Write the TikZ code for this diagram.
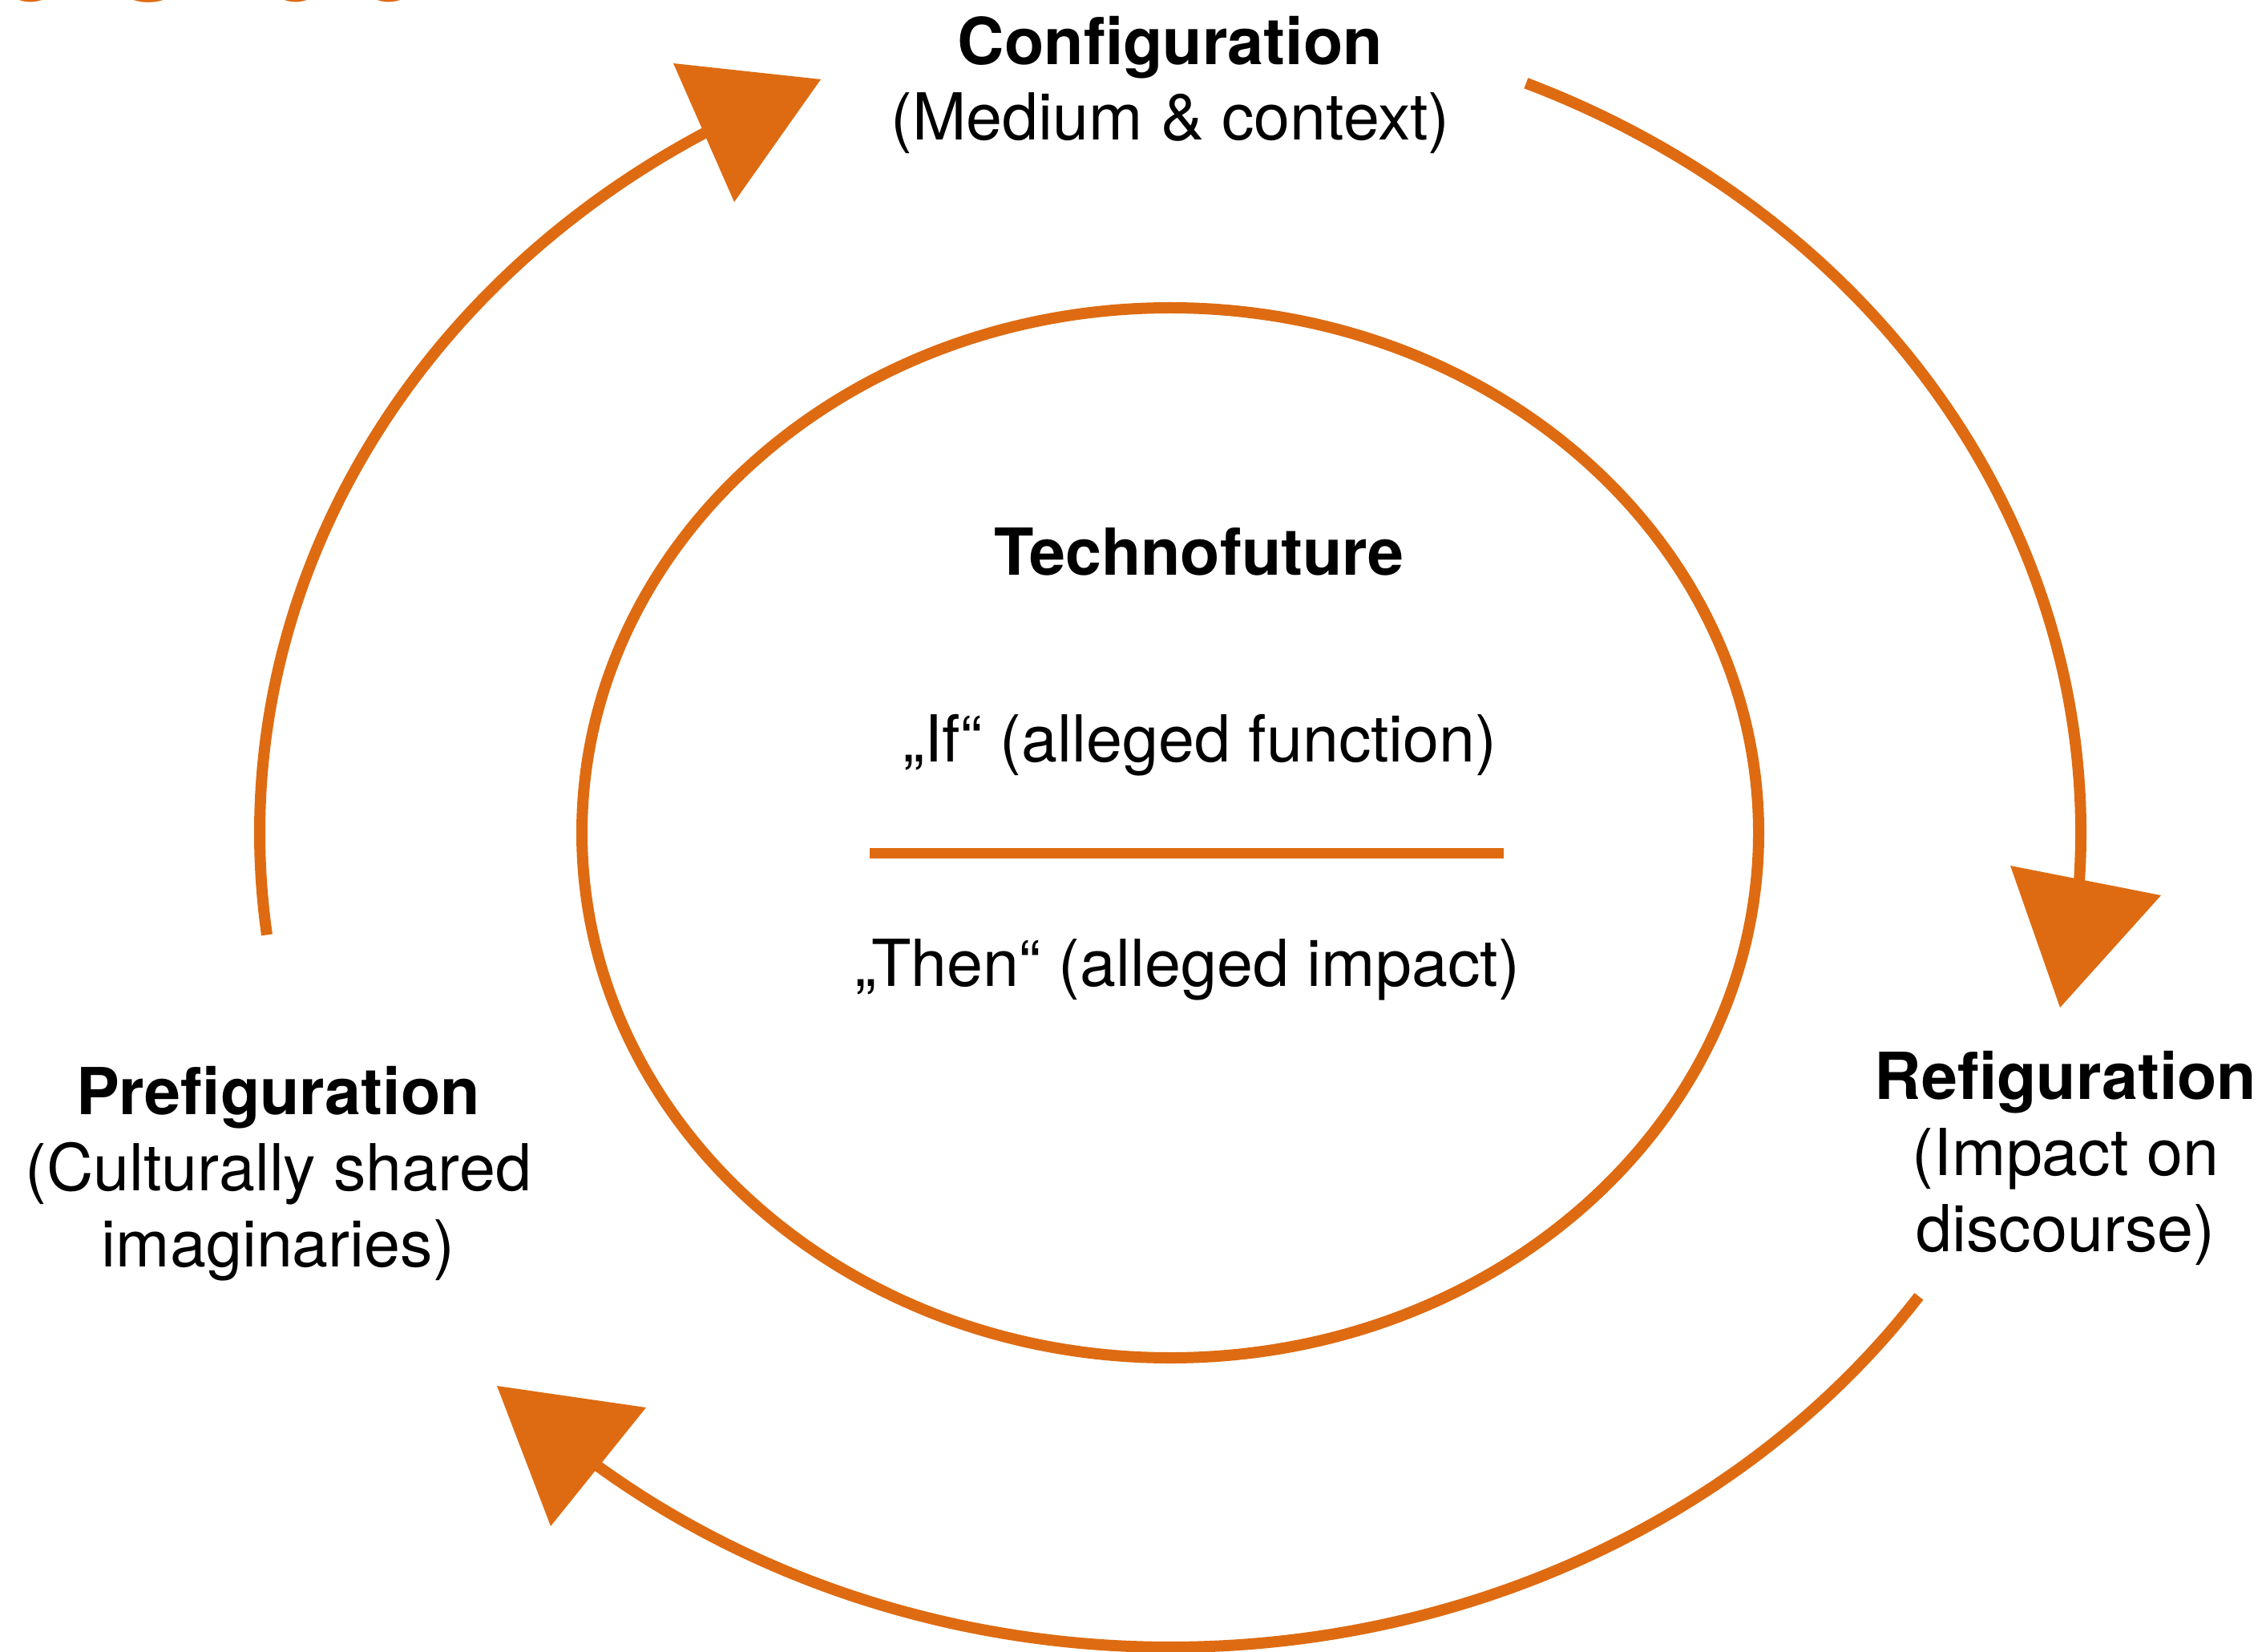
\documentclass[tikz,border=0pt]{standalone}
\usepackage{fontspec}
\setmainfont{TeX Gyre Heros}
\definecolor{circorange}{RGB}{222,107,18}

\begin{document}
\begin{tikzpicture}[
        lbl/.style={align=center, inner sep=0pt, anchor=base, font=\fontsize{23}{27}\selectfont},
        ring/.style={draw=circorange, line width=0.14cm},
        tip/.style={fill=circorange},
    ]
            \useasboundingbox (0,0) rectangle (28.27,20.60);
            \coordinate (c) at (14.60,10.21);

            % Title, cut off by the page edge
            \node[anchor=base east, inner sep=0pt, text=circorange, font=\fontsize{45}{54}\selectfont] (title) at (5.30,20.59) {e Circle};

            % Inner ring
            \draw[ring] (c) ellipse (7.34 and 6.55);
            \draw[ring, line width=0.13cm] (10.85,9.96) -- (18.76,9.96);

            % Outer cycle
            \draw[ring] (c) ++(67:11.36 and 10.16) arc[start angle=67, end angle=-5, x radius=11.36, y radius=10.16];
            \draw[ring] (c) ++(-34.7:11.36 and 10.16) arc[start angle=-34.7, end angle=-132, x radius=11.36, y radius=10.16];
            \draw[ring] (c) ++(187.2:11.36 and 10.16) arc[start angle=187.2, end angle=118, x radius=11.36, y radius=10.16];

            % Arrow heads
            \fill[tip] (8.40,19.81) -- (10.24,19.61) -- (9.16,18.08) -- cycle;
            \fill[tip] (25.08,9.80) -- (26.96,9.43) -- (25.70,8.03) -- cycle;
            \fill[tip] (6.20,3.31) -- (8.06,3.04) -- (6.87,1.56) -- cycle;

            % Labels (base = last line)
            \node[lbl] (conf) at (14.60,18.85) {\textbf{Configuration}\\(Medium \& context)};
            \node[lbl] (pre) at (3.47,4.80) {\textbf{Prefiguration}\\(Culturally shared\\imaginaries)};
            \node[lbl] (re) at (25.77,4.99) {\textbf{Refiguration}\\(Impact on\\discourse)};
            \node[lbl] (techno) at (14.96,13.43) {\textbf{Technofuture}};
            \node[lbl] (if) at (14.97,11.10) {„If“ (alleged function)};
            \node[lbl] (then) at (14.81,8.30) {„Then“ (alleged impact)};
        \end{tikzpicture}
\end{document}
